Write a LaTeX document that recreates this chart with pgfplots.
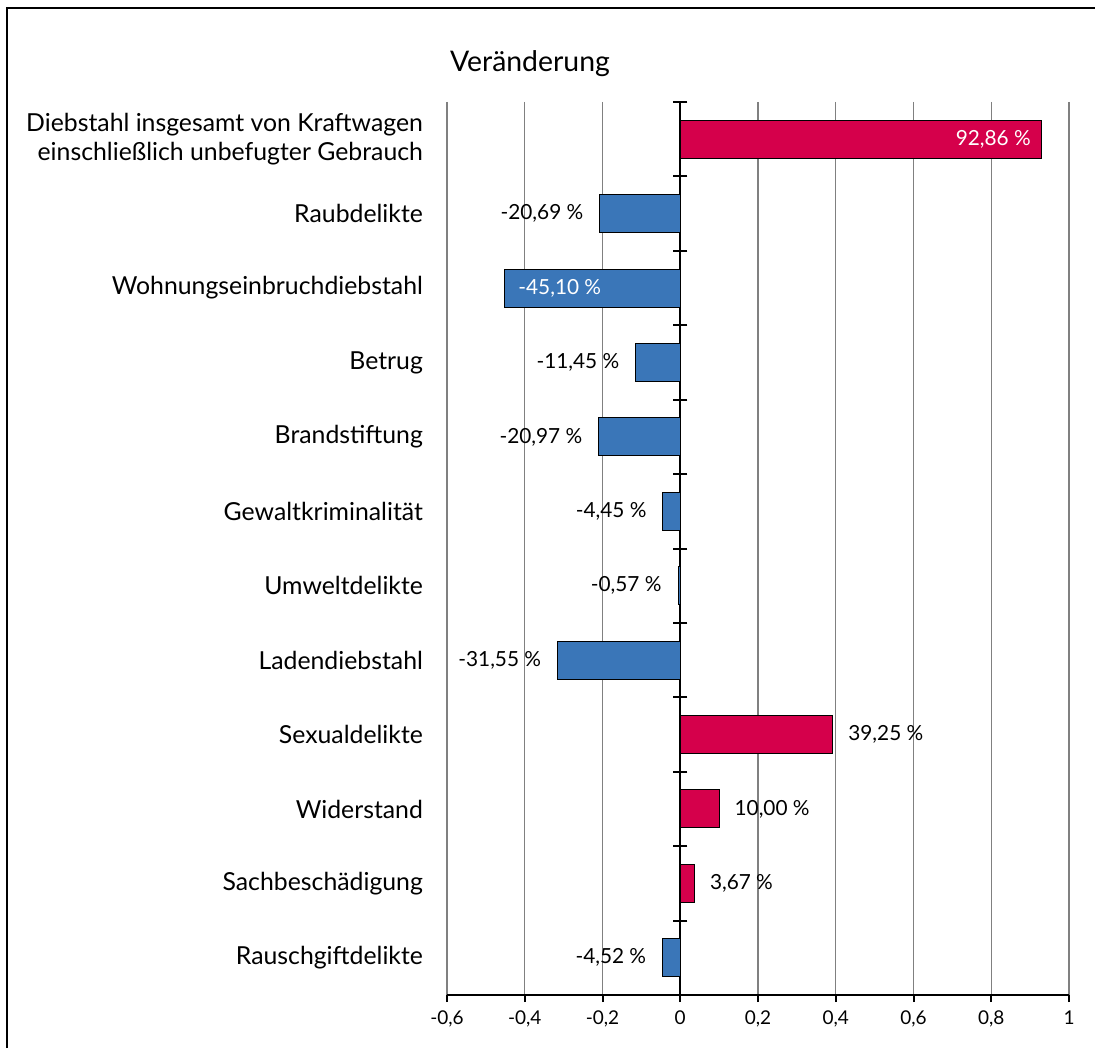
\documentclass[border=0pt]{standalone}
\usepackage{pgfplots}
\pgfplotsset{compat=1.18}
\usepackage{fontspec}
\setmainfont{Lato}
\definecolor{barred}{RGB}{213,0,75}
\definecolor{barblue}{RGB}{58,118,184}
\pgfplotsset{
  mybar/.style={xbar, bar width=19pt, bar shift=0pt, draw=black, line width=0.5pt,
    point meta={x*100},
    nodes near coords={\pgfmathprintnumber[fixed,fixed zerofill,precision=2,use comma,assume math mode=true]{\pgfplotspointmeta}~\%},
    nodes near coords style={font=\fontsize{10.4}{12}\selectfont, inner sep=0pt, text=black}},
}
\begin{document}
\begin{tikzpicture}
\useasboundingbox (-223.5pt,-26.5pt) rectangle (324pt,497.5pt);
\draw[line width=1pt] (-220pt,-26.5pt) -- (-220pt,493.5pt) -- (324pt,493.5pt);
\begin{axis}[
  at={(0,0)}, anchor=south west, scale only axis,
  width=311pt, height=446.5pt,
  xmin=-0.6, xmax=1, ymin=-0.5, ymax=11.5, y dir=reverse,
  clip=false,
  axis x line*=bottom, axis y line*=left,
  y axis line style={draw=none},
  x axis line style={line width=1pt},
  xtick={-0.6,-0.4,-0.2,0,0.2,0.4,0.6,0.8,1},
  xticklabels={-0{,}6,-0{,}4,-0{,}2,0,0{,}2,0{,}4,0{,}6,0{,}8,1},
  xticklabel style={font=\fontsize{9.5}{11}\selectfont, yshift=-1pt},
  tick align=outside, major tick length=3.5pt,
  xtick style={black, line width=1pt},
  xmajorgrids=true, major x grid style={gray, line width=0.7pt},
  ytick={0,...,11}, ytick style={draw=none},
  yticklabel style={font=\fontsize{12.4}{14.5}\selectfont, align=right, xshift=-5pt},
  yticklabels={{Diebstahl insgesamt von Kraftwagen\\einschließlich unbefugter Gebrauch},
    Raubdelikte, Wohnungseinbruchdiebstahl, Betrug, Brandstiftung, Gewaltkriminalität,
    Umweltdelikte, Ladendiebstahl, Sexualdelikte, Widerstand, Sachbeschädigung, Rauschgiftdelikte},
  title={Veränderung},
  title style={at={(0,1)}, anchor=base west, yshift=9pt, xshift=-2pt, font=\fontsize{14.2}{17}\selectfont},
]
\addplot[black, line width=1pt] coordinates {(0,-0.5) (0,11.5)};
% negative, label outside
\addplot[mybar, fill=barblue, every node near coord/.append style={anchor=east, xshift=-8pt}]
  coordinates {(-0.2069,1) (-0.1145,3) (-0.2097,4) (-0.0445,5) (-0.0057,6) (-0.3155,7) (-0.0452,11)};
% negative, label inside
\addplot[mybar, fill=barblue, every node near coord/.append style={anchor=west, xshift=6.5pt, text=white}]
  coordinates {(-0.4510,2)};
% positive, label outside
\addplot[mybar, fill=barred, every node near coord/.append style={anchor=west, xshift=7.5pt}]
  coordinates {(0.3925,8) (0.1000,9) (0.0367,10)};
% positive, label inside
\addplot[mybar, fill=barred, every node near coord/.append style={anchor=east, xshift=-5pt, text=white}]
  coordinates {(0.9286,0)};
% zero line tick marks
\addplot[only marks, mark=-, mark size=3.5pt, mark options={black, line width=1pt}]
  coordinates {(0,-0.5) (0,0.5) (0,1.5) (0,2.5) (0,3.5) (0,4.5) (0,5.5) (0,6.5) (0,7.5) (0,8.5) (0,9.5) (0,10.5)};
\end{axis}
\end{tikzpicture}
\end{document}
